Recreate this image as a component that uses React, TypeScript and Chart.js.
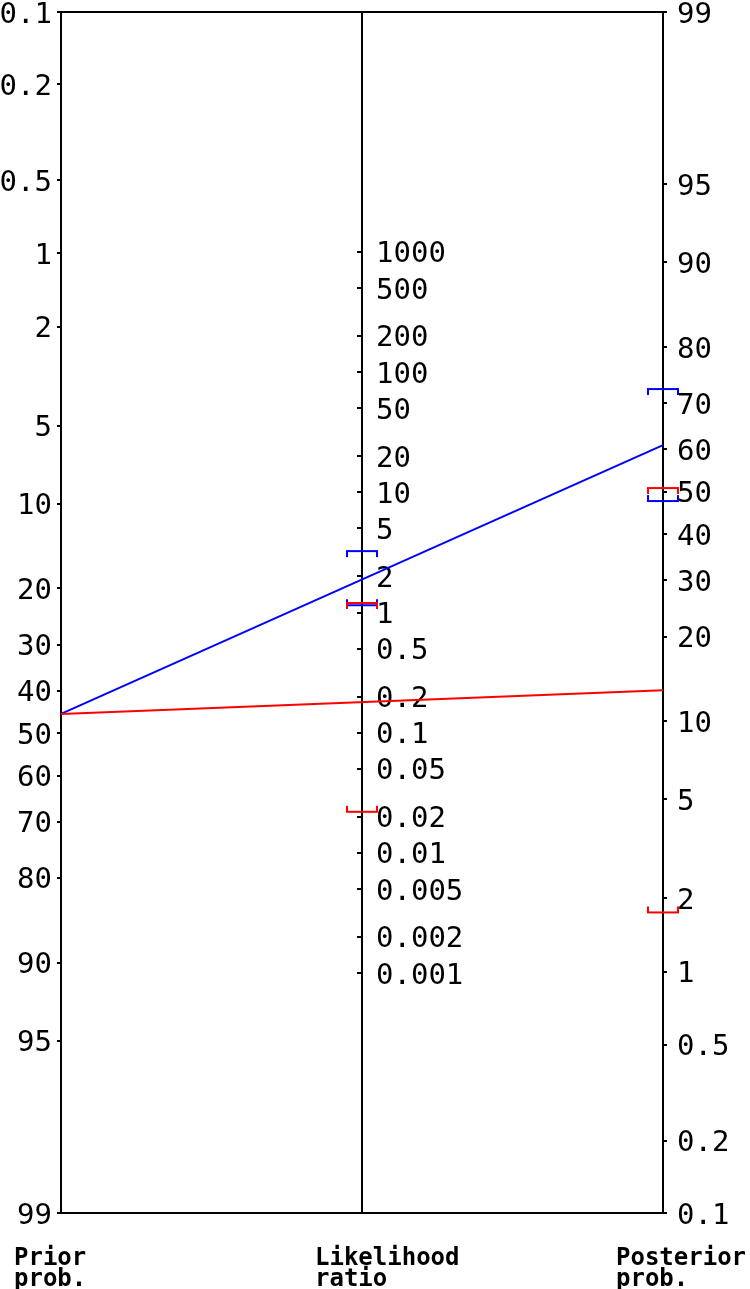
import React, { useEffect, useRef } from 'react';
import { Chart, registerables } from 'chart.js';

Chart.register(...registerables);

// ---- Tick labels ----
const priorTicks = ['0.1', '0.2', '0.5', '1', '2', '5', '10', '20', '30', '40', '50', '60', '70', '80', '90', '95', '99'];
const lrTicks = ['1000', '500', '200', '100', '50', '20', '10', '5', '2', '1', '0.5', '0.2', '0.1', '0.05', '0.02', '0.01', '0.005', '0.002', '0.001'];
const posteriorTicks = ['99', '95', '90', '80', '70', '60', '50', '40', '30', '20', '10', '5', '2', '1', '0.5', '0.2', '0.1'];
const axisTitles = [['Prior', 'prob.'], ['Likelihood', 'ratio'], ['Posterior', 'prob.']];

// ---- Data (percent / ratio) ----
const priorProb = [45.4];
// series 0: negative result (red), series 1: positive result (blue)
const seriesColors = ['#ff0000', '#0000ff'];
const lrPoint = [0.176, 1.9];
const lrLow = [0.022, 1.15];
const lrHigh = [1.2, 3.24];
const postPoint = [13, 61];
const postLow = [1.75, 47.8];
const postHigh = [50.9, 72.8];

// ---- Axis ranges ----
const PROB_MIN = 0.1;
const PROB_MAX = 99;

const logit = (p: number) => Math.log(p / (100 - p));
const L_MIN = logit(PROB_MIN);
const L_MAX = logit(PROB_MAX);
const SPAN = L_MAX - L_MIN;

const MONO = '"DejaVu Sans Mono", "Liberation Mono", monospace';

function makeBracket(color: string, tipsDown: boolean): HTMLCanvasElement {
  const w = 32;
  const tip = 7;
  const h = tip * 2;
  const mid = h / 2;
  const c = document.createElement('canvas');
  c.width = w;
  c.height = h;
  const g = c.getContext('2d')!;
  g.fillStyle = color;
  g.fillRect(0, mid - 1, w, 2);
  if (tipsDown) {
    g.fillRect(0, mid - 1, 2, tip);
    g.fillRect(w - 2, mid - 1, 2, tip);
  } else {
    g.fillRect(0, mid + 1 - tip, 2, tip);
    g.fillRect(w - 2, mid + 1 - tip, 2, tip);
  }
  return c;
}

const midLabels = {
  id: 'midLabels',
  beforeDatasetsDraw(chart: any) {
    const ys = chart.scales.yM;
    const xs = chart.scales.x;
    const ctx = chart.ctx;
    const x0 = xs.getPixelForValue(0.5) + 14;
    ctx.save();
    ctx.font = `29px ${MONO}`;
    ctx.fillStyle = '#000';
    ctx.textAlign = 'left';
    ctx.textBaseline = 'middle';
    ys.ticks.forEach((t: any, i: number) => {
      ctx.fillText(lrTicks[i], x0, ys.getPixelForValue(t.value) + 3);
    });
    ctx.restore();
  },
};

export default function App() {
  const ref = useRef<HTMLCanvasElement>(null);

  useEffect(() => {
    document.body.style.margin = '0';
    const canvas = ref.current!;
    const datasets: any[] = [];
    seriesColors.forEach((color, s) => {
      datasets.push({
        data: [
          { x: 0.5, y: -Math.log(lrHigh[s]) },
          { x: 0.5, y: -Math.log(lrLow[s]) },
        ],
        xAxisID: 'x',
        yAxisID: 'yM',
        showLine: false,
        pointStyle: [makeBracket(color, true), makeBracket(color, false)],
        pointRadius: 10,
        clip: false,
      });
      datasets.push({
        data: [
          { x: 1, y: -logit(postHigh[s]) },
          { x: 1, y: -logit(postLow[s]) },
        ],
        xAxisID: 'x',
        yAxisID: 'yR',
        showLine: false,
        pointStyle: [makeBracket(color, true), makeBracket(color, false)],
        pointRadius: 10,
        clip: false,
      });
      datasets.push({
        data: [
          { x: 0, y: logit(priorProb[0]) },
          { x: 1, y: -logit(postPoint[s]) + L_MIN + L_MAX },
        ],
        xAxisID: 'x',
        yAxisID: 'yL',
        showLine: true,
        borderColor: color,
        borderWidth: 2,
        pointRadius: 0,
        clip: false,
      });
    });

    const tickFont = { family: MONO, size: 29 };
    const gridOpts = { display: true, drawOnChartArea: false, drawTicks: true, tickLength: 4, color: '#000', lineWidth: 2 };
    const border = { display: true, color: '#000', width: 2 };

    const chart = new Chart(canvas, {
      type: 'scatter',
      data: { datasets },
      plugins: [midLabels],
      options: {
        animation: false,
        responsive: false,
        events: [],
        layout: { padding: 0 },
        plugins: { legend: { display: false }, tooltip: { enabled: false } },
        scales: {
          x: {
            type: 'linear',
            position: 'bottom',
            min: 0,
            max: 1,
            afterBuildTicks: (s: any) => { s.ticks = [0, 0.5, 1].map((v) => ({ value: v })); },
            afterFit: (s: any) => { s.height = 76; s.paddingLeft = 0; s.paddingRight = 0; },
            ticks: {
              autoSkip: false,
              maxRotation: 0,
              align: 'start',
              labelOffset: -47,
              padding: 35,
              color: '#000',
              font: { family: MONO, size: 24, weight: 'bold', lineHeight: '21px' },
              callback: (_v: any, i: number) => axisTitles[i],
            },
            grid: { display: false, drawTicks: false },
            border,
          },
          xTop: {
            type: 'linear',
            position: 'top',
            min: 0,
            max: 1,
            afterFit: (s: any) => { s.height = 12; s.paddingLeft = 0; s.paddingRight = 0; },
            ticks: { display: false },
            grid: { display: false, drawTicks: false },
            border,
          },
          yL: {
            type: 'linear',
            position: 'left',
            min: L_MIN,
            max: L_MAX,
            reverse: true,
            bounds: 'data',
            afterBuildTicks: (s: any) => { s.ticks = priorTicks.map((t) => ({ value: logit(parseFloat(t)) })); },
            afterFit: (s: any) => { s.width = 61; s.paddingTop = 0; s.paddingBottom = 0; },
            ticks: {
              autoSkip: false,
              padding: 5,
              labelOffset: 3,
              color: '#000',
              font: tickFont,
              callback: (_v: any, i: number) => priorTicks[i],
            },
            grid: gridOpts,
            border,
          },
          yR: {
            type: 'linear',
            position: 'right',
            min: -L_MAX,
            max: -L_MIN,
            reverse: true,
            bounds: 'data',
            afterBuildTicks: (s: any) => { s.ticks = posteriorTicks.map((t) => ({ value: -logit(parseFloat(t)) })); },
            afterFit: (s: any) => { s.width = 87; s.paddingTop = 0; s.paddingBottom = 0; },
            ticks: {
              autoSkip: false,
              padding: 10,
              labelOffset: 3,
              color: '#000',
              font: tickFont,
              callback: (_v: any, i: number) => posteriorTicks[i],
            },
            grid: gridOpts,
            border,
          },
          yM: {
            type: 'linear',
            position: { x: 0.5 },
            min: -SPAN,
            max: SPAN,
            reverse: true,
            bounds: 'data',
            afterBuildTicks: (s: any) => { s.ticks = lrTicks.map((t) => ({ value: -Math.log(parseFloat(t)) })); },
            ticks: { display: false, autoSkip: false },
            grid: gridOpts,
            border,
          },
        },
      } as any,
    });
    return () => chart.destroy();
  }, []);

  return <canvas ref={ref} width={750} height={1289} style={{ display: 'block' }} />;
}
